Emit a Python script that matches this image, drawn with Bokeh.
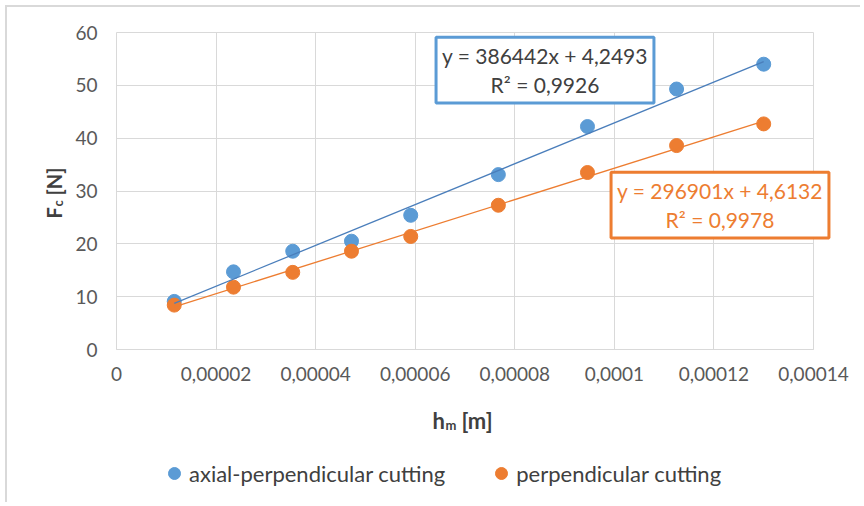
import math
from bokeh.plotting import figure
from bokeh.models import (Range1d, FixedTicker, CustomJSTickFormatter, Label, Legend, LegendItem, Grid)
from bokeh.embed import file_html
from bokeh.resources import INLINE

# ---- data ----
hm_axial = [0.0000116, 0.0000235, 0.0000354, 0.0000472, 0.0000591, 0.0000767, 0.0000946, 0.0001125, 0.0001300]
fc_axial = [9.1, 14.7, 18.6, 20.5, 25.4, 33.1, 42.2, 49.3, 54.0]
hm_perp = [0.0000116, 0.0000235, 0.0000354, 0.0000472, 0.0000591, 0.0000767, 0.0000946, 0.0001125, 0.0001300]
fc_perp = [8.4, 11.8, 14.6, 18.6, 21.4, 27.3, 33.5, 38.6, 42.7]
series_names = ["axial-perpendicular cutting", "perpendicular cutting"]
trend_axial = (386442, 4.2493)
trend_perp = (296901, 4.6132)
eq_axial = "y = 386442x + 4,2493\nR\u00b2 = 0,9926"
eq_perp = "y = 296901x + 4,6132\nR\u00b2 = 0,9978"
x_ticks = [0, 0.00002, 0.00004, 0.00006, 0.00008, 0.0001, 0.00012, 0.00014]
x_tick_labels = ["0", "0,00002", "0,00004", "0,00006", "0,00008", "0,0001", "0,00012", "0,00014"]
y_ticks = [0, 10, 20, 30, 40, 50, 60]

BLUE = "#5B9BD5"
BLUE_LINE = "#4A7EBB"
ORANGE = "#ED7D31"
GRID = "#D9D9D9"
TXT = "#595959"
DARK = "#404040"
FONT = "Lato"

# ---- layout geometry (screen pixels) ----
W, H = 855, 497
ORIGIN = 7                     # canvas top-left on screen
X0_SCR, X1_SCR = 116, 813      # screen x of first / last x tick
Y0_SCR, Y1_SCR = 349, 32       # screen y of first / last y tick
kx = (x_ticks[-1] - x_ticks[0]) / (X1_SCR - X0_SCR)
ky = (y_ticks[-1] - y_ticks[0]) / (Y0_SCR - Y1_SCR)
x_start = x_ticks[0] - (X0_SCR - ORIGIN) * kx
x_end = x_ticks[-1] + (ORIGIN + W - X1_SCR) * kx
y_start = y_ticks[0] - (ORIGIN + H - Y0_SCR) * ky
y_end = y_ticks[-1] + (Y1_SCR - ORIGIN) * ky

def dx(sx):
    return x_ticks[0] + (sx - X0_SCR) * kx

def dy(sy):
    return y_ticks[0] + (Y0_SCR - sy) * ky

p = figure(width=W, height=H, output_backend="svg", toolbar_location=None,
           x_range=Range1d(x_start, x_end), y_range=Range1d(y_start, y_end),
           min_border=0, min_border_left=0, min_border_right=0, min_border_top=0, min_border_bottom=0)
p.styles = {"margin-left": "5px", "margin-top": "5px",
            "border-left": "2px solid #D9D9D9", "border-top": "2px solid #D9D9D9"}
p.outline_line_color = None
p.background_fill_color = "white"
p.border_fill_color = "white"

p.xaxis.fixed_location = y_ticks[0]
p.yaxis.fixed_location = x_ticks[0]
p.xaxis.bounds = (x_ticks[0], x_ticks[-1])
p.yaxis.bounds = (y_ticks[0], y_ticks[-1])
p.xaxis.ticker = FixedTicker(ticks=x_ticks)
p.xaxis.formatter = CustomJSTickFormatter(args=dict(labels=x_tick_labels), code="return labels[index];")
p.yaxis.ticker = FixedTicker(ticks=y_ticks)
for ax in (p.xaxis, p.yaxis):
    ax.major_tick_line_color = None
    ax.minor_tick_line_color = None
    ax.major_tick_in = 0
    ax.major_tick_out = 0
    ax.minor_tick_in = 0
    ax.minor_tick_out = 0
    ax.major_label_text_font = FONT
    ax.major_label_text_font_size = "19px"
    ax.major_label_text_color = TXT
p.xaxis.axis_line_color = GRID
p.yaxis.axis_line_color = None
p.xaxis.major_label_standoff = 17
p.yaxis.major_label_standoff = 19

p.xgrid.grid_line_color = GRID
p.ygrid.grid_line_color = GRID
if "cross_bounds" in Grid.properties():
    p.xgrid.cross_bounds = (y_ticks[0], y_ticks[-1])
    p.ygrid.cross_bounds = (x_ticks[0], x_ticks[-1])
    p.xgrid.bounds = (x_ticks[0], x_ticks[-1])
    p.ygrid.bounds = (y_ticks[0], y_ticks[-1])
else:
    p.xgrid.visible = False
    p.ygrid.visible = False
    p.segment(x0=x_ticks, x1=x_ticks, y0=[y_ticks[0]] * len(x_ticks), y1=[y_ticks[-1]] * len(x_ticks),
              line_color=GRID, line_width=1)
    p.segment(x0=[x_ticks[0]] * len(y_ticks), x1=[x_ticks[-1]] * len(y_ticks), y0=y_ticks, y1=y_ticks,
              line_color=GRID, line_width=1)

r1 = p.scatter(hm_axial, fc_axial, size=14, color=BLUE, line_color=BLUE)
r2 = p.scatter(hm_perp, fc_perp, size=14, color=ORANGE, line_color=ORANGE)
xa = [min(hm_axial), max(hm_axial)]
p.line(xa, [trend_axial[0] * x + trend_axial[1] for x in xa], line_color=BLUE_LINE, line_width=1.3)
xp = [min(hm_perp), max(hm_perp)]
p.line(xp, [trend_perp[0] * x + trend_perp[1] for x in xp], line_color=ORANGE, line_width=1.3)

# equation boxes
for txt, col, tcol, cx, cy in [(eq_axial, BLUE, DARK, 544.5, 69.5), (eq_perp, ORANGE, ORANGE, 719.5, 204.5)]:
    p.add_layout(Label(x=dx(cx), y=dy(cy), text=txt, text_align="center", text_baseline="middle",
                       text_font=FONT, text_font_size="21px", text_color=tcol, text_line_height=1.15,
                       border_line_color=col, border_line_width=3, background_fill_color="white",
                       padding=6))

# axis titles (with subscripts)
def title_part(sx, sy, text, size, angle=0.0):
    p.add_layout(Label(x=dx(sx), y=dy(sy), text=text, angle=angle, text_font=FONT, text_font_style="bold",
                       text_font_size=size, text_color=DARK, text_align="left", text_baseline="alphabetic"))

title_part(432, 420, "h", "22px")
title_part(445, 424, "m", "13px")
title_part(461, 420, "[m]", "22px")
title_part(53, 218, "F", "20px", math.pi / 2)
title_part(57, 206, "c", "13px", math.pi / 2)
title_part(53, 195, "[N]", "20px", math.pi / 2)

legend = Legend(items=[LegendItem(label=series_names[0], renderers=[r1]),
                       LegendItem(label=series_names[1], renderers=[r2])],
                orientation="horizontal", location=(159 - ORIGIN, ORIGIN + H - 488),
                border_line_color=None, background_fill_alpha=0,
                label_text_font=FONT, label_text_font_size="22px", label_text_color=DARK,
                glyph_width=30, glyph_height=30, label_standoff=0,
                spacing=41, padding=0, margin=0)
p.add_layout(legend, "center")

open("out.html", "w").write(file_html(p, INLINE))
